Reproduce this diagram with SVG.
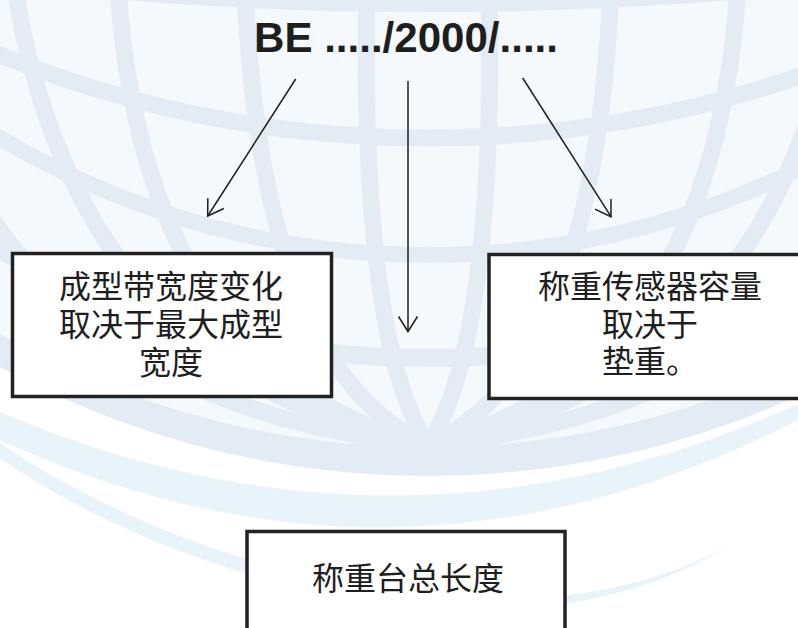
<svg xmlns="http://www.w3.org/2000/svg" width="798" height="628" viewBox="0 0 798 628">
  <defs>
    <style>
      .band { fill: none; stroke: #e3ecf4; }
      .mer { fill: none; stroke: #e3ecf4; stroke-width: 17; }
      .soft { fill: #e8f4fa; stroke: none; }
      .box { fill: #ffffff; stroke: #222222; stroke-width: 3.5; }
      .cjk { font-family: "Noto Sans CJK SC", "Noto Sans", sans-serif; font-size: 32px; fill: #1e1e1e; text-anchor: middle; }
      .title { font-family: "Liberation Sans", Arial, sans-serif; font-weight: bold; font-size: 43px; fill: #1e1e1e; }
      .conn { fill: none; stroke: #1e1e1e; stroke-width: 1.5; }
    </style>
    <clipPath id="globeClip">
      <circle cx="428" cy="-419" r="895"/>
    </clipPath>
    <marker id="openArrow" viewBox="-16 -11 18 22" refX="0" refY="0" markerWidth="18" markerHeight="22" markerUnits="userSpaceOnUse" orient="auto">
      <path d="M -15,-9.5 L 0,0 L -15,9.5" fill="none" stroke="#1e1e1e" stroke-width="1.5"/>
    </marker>
  </defs>

  <g id="background">
    <rect x="0" y="0" width="798" height="628" fill="#ffffff"/>
    <circle cx="428" cy="-419" r="895" fill="#f5f9fc"/>
    <path class="soft" d="M 0,412 Q 401,583 798,404 L 798,420 Q 401,624 0,440 Z"/>
    <path class="soft" d="M -10,436 C 150,552 500,672 730,545 C 500,688 150,568 -10,451 Z"/>
    <g clip-path="url(#globeClip)">
      <circle class="band" cx="428" cy="-3895" r="3900" stroke-width="14"/>
      <circle class="band" cx="428" cy="-1007" r="1145" stroke-width="17"/>
      <circle class="band" cx="428" cy="-586" r="841" stroke-width="16"/>
      <circle class="band" cx="428" cy="-544" r="902" stroke-width="18"/>
      <path class="mer" d="M -100,-10 Q -20,400 428,445"/>
      <path class="mer" d="M 15,-10 Q 80,380 428,445"/>
      <path class="mer" d="M 118,-10 Q 145,375 428,445"/>
      <path class="mer" d="M 245,-10 Q 262,370 428,445"/>
      <path class="mer" d="M 367,-10 Q 360,340 428,445"/>
      <path class="mer" d="M 489,-10 Q 496,340 428,445"/>
      <path class="mer" d="M 611,-10 Q 594,370 428,445"/>
      <path class="mer" d="M 738,-10 Q 711,375 428,445"/>
      <path class="mer" d="M 841,-10 Q 776,380 428,445"/>
      <path class="mer" d="M 956,-10 Q 876,400 428,445"/>
      <circle class="band" cx="428" cy="-419" r="880.5" stroke-width="29"/>
    </g>
  </g>

  <g id="connectors">
    <line class="conn" x1="295.7" y1="79" x2="207.7" y2="216" marker-end="url(#openArrow)"/>
    <line class="conn" x1="408" y1="81" x2="408" y2="331.5" marker-end="url(#openArrow)"/>
    <line class="conn" x1="522.7" y1="78" x2="611" y2="216.7" marker-end="url(#openArrow)"/>
  </g>

  <g id="node-title">
    <text class="title" x="254" y="52" textLength="304" lengthAdjust="spacingAndGlyphs">BE ...../2000/.....</text>
  </g>

  <g id="node-left">
    <rect class="box" x="12.5" y="253.5" width="319" height="143"/>
    <text class="cjk" x="171" y="298">成型带宽度变化</text>
    <text class="cjk" x="171" y="336">取决于最大成型</text>
    <text class="cjk" x="171" y="374">宽度</text>
  </g>

  <g id="node-right">
    <rect class="box" x="489" y="254.5" width="324" height="144"/>
    <text class="cjk" x="650" y="298">称重传感器容量</text>
    <text class="cjk" x="650" y="336">取决于</text>
    <text class="cjk" x="650" y="373">垫重。</text>
  </g>

  <g id="node-bottom">
    <rect class="box" x="247" y="531.5" width="318" height="110"/>
    <text class="cjk" x="408" y="589.5">称重台总长度</text>
  </g>
</svg>
